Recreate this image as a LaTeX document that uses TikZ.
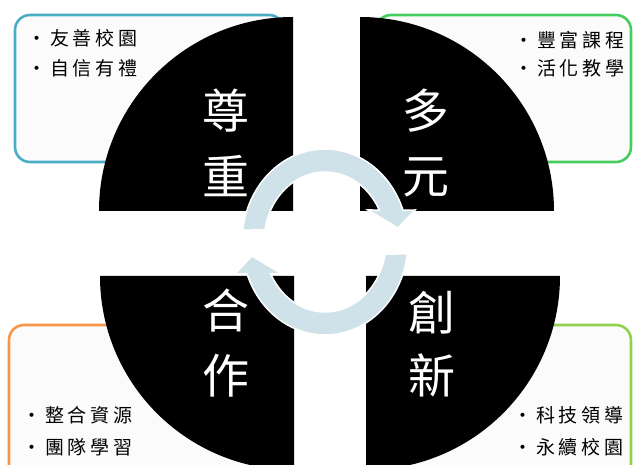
\documentclass[tikz,border=0pt]{standalone}
\usepackage{fontspec}
\newfontfamily\cjk[LetterSpace=20]{Noto Sans CJK TC}
\newfontfamily\cjkbig{Noto Sans CJK TC}
\definecolor{boxblue}{RGB}{75,172,198}
\definecolor{boxgreen}{RGB}{70,205,95}
\definecolor{boxorange}{RGB}{247,150,70}
\definecolor{boxlime}{RGB}{146,208,80}
\definecolor{arrowblue}{RGB}{207,225,233}
\newcommand\bl[1]{\makebox[10pt]{·}\hspace{8pt}#1}
\tikzset{
  infobox/.style={line width=2.6pt, rounded corners=15pt, fill=white!98.5!black},
  quad/.style={fill=black},
  bigchar/.style={text=white, font=\cjkbig\fontsize{47}{47}\selectfont, inner sep=0pt},
  item/.style={anchor=west, font=\cjk\fontsize{19}{19}\selectfont, inner sep=0pt},
  cyclearrow/.style={fill=arrowblue, draw=white, line width=1.5pt, line join=miter}
}
\begin{document}
\begin{tikzpicture}[x=1pt,y=-1pt]
\useasboundingbox (0,0) rectangle (633,465);
\begin{scope}
\clip (0,0) rectangle (633,465);
% text boxes
\draw[infobox, draw=boxblue] (15,15) rectangle (284,162);
\draw[infobox, draw=boxgreen] (376,15) rectangle (631,162);
\draw[infobox, draw=boxorange] (9,325) rectangle (280,485);
\draw[infobox, draw=boxlime] (380,325) rectangle (631,485);
% quadrants
\fill[quad] (293,211) -- (99,211) arc[start angle=180, end angle=270, radius=194] -- cycle;
\fill[quad] (360,211) -- (360,17) arc[start angle=270, end angle=360, radius=194] -- cycle;
\fill[quad] (294,276) -- (100,276) arc[start angle=180, end angle=90, radius=194] -- cycle;
\fill[quad] (366,276) -- (560,276) arc[start angle=0, end angle=90, radius=194] -- cycle;
% big characters
\node[bigchar] (z1) at (226,111) {尊};
\node[bigchar] (z2) at (226,176) {重};
\node[bigchar] (d1) at (426,111) {多};
\node[bigchar] (d2) at (426,177) {元};
\node[bigchar] (h1) at (226,311) {合};
\node[bigchar] (h2) at (226,376) {作};
\node[bigchar] (c1) at (432,313) {創};
\node[bigchar] (c2) at (432,375) {新};
% items
\node[item] (tl1) at (32,38) {\bl{友善校園}};
\node[item] (tl2) at (32,68) {\bl{自信有禮}};
\node[item] (tr1) at (519,40) {\bl{豐富課程}};
\node[item] (tr2) at (519,68) {\bl{活化教學}};
\node[item] (bl1) at (27,415) {\bl{整合資源}};
\node[item] (bl2) at (27,447) {\bl{團隊學習}};
\node[item] (br1) at (518,415) {\bl{科技領導}};
\node[item] (br2) at (518,447) {\bl{永續校園}};
% cycle arrows
\begin{scope}[shift={(325,242)}]
\draw[cyclearrow] (187.4:83 and 93) arc[start angle=187.4, end angle=339.9, x radius=83, y radius=93]
  -- (90,-32) -- (73,-14) -- (43,-32) -- (332.8:61 and 70)
  arc[start angle=332.8, end angle=189.9, x radius=61, y radius=70] -- cycle;
\end{scope}
\begin{scope}[shift={(325,242)}, rotate=180]
\draw[cyclearrow] (187.4:83 and 93) arc[start angle=187.4, end angle=339.9, x radius=83, y radius=93]
  -- (90,-32) -- (73,-14) -- (43,-32) -- (332.8:61 and 70)
  arc[start angle=332.8, end angle=189.9, x radius=61, y radius=70] -- cycle;
\end{scope}
\end{scope}
\end{tikzpicture}
\end{document}
